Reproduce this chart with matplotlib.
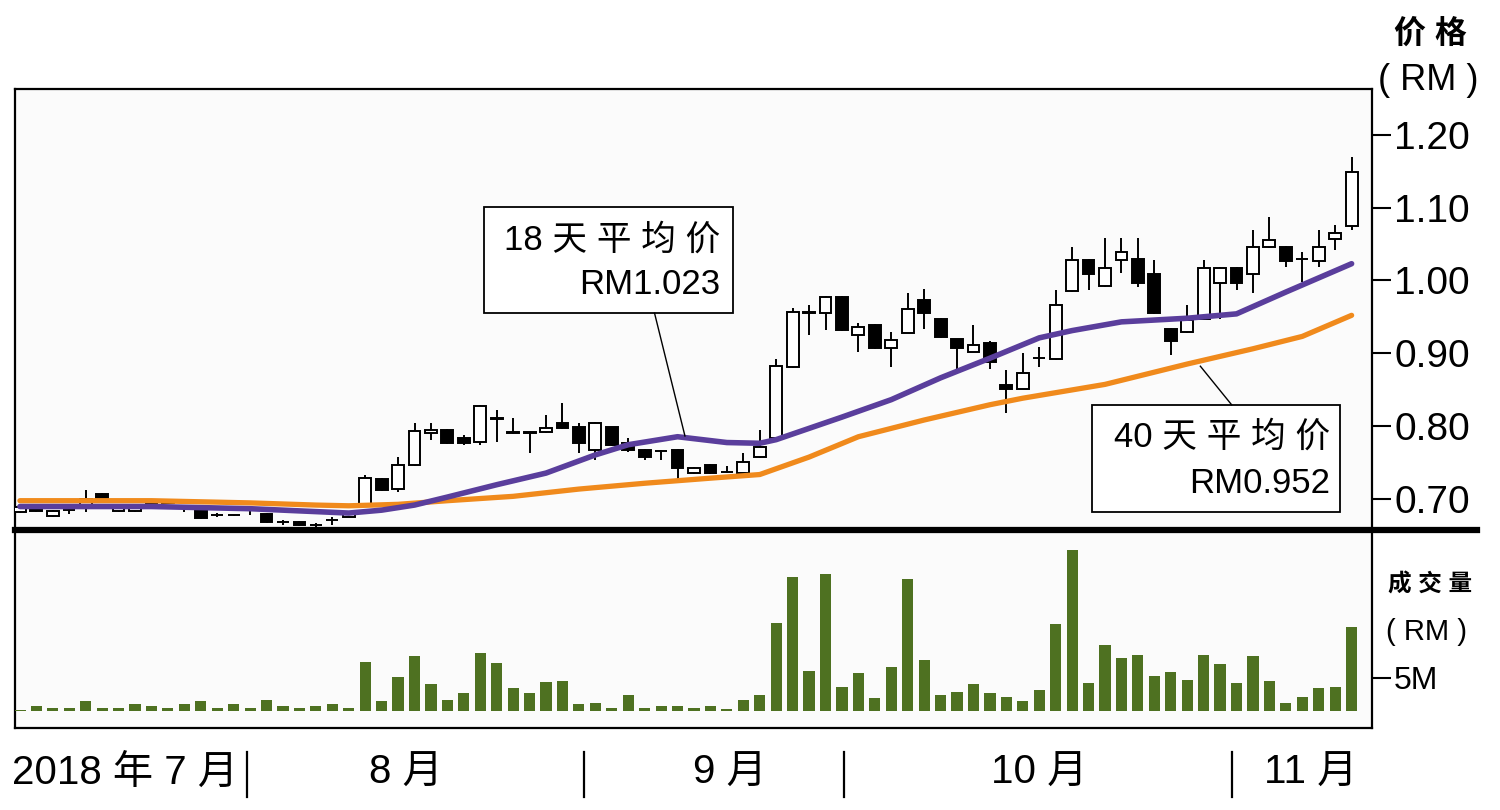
import matplotlib
matplotlib.use('Agg')
import matplotlib.pyplot as plt
import matplotlib.transforms as mtransforms
from matplotlib.lines import Line2D
from matplotlib.patches import Rectangle

plt.rcParams['font.family'] = ['Liberation Sans', 'Noto Sans CJK SC', 'DejaVu Sans']

# daily candles (RM)
opens = [0.681, 0.688, 0.676, 0.684, 0.687, 0.706, 0.683, 0.683, 0.692, 0.694,
         0.687, 0.687, 0.677, 0.677, 0.684, 0.679, 0.668, 0.668, 0.664, 0.670,
         0.675, 0.692, 0.727, 0.713, 0.746, 0.790, 0.794, 0.783, 0.778, 0.809,
         0.791, 0.791, 0.791, 0.804, 0.798, 0.767, 0.798, 0.776, 0.767, 0.766,
         0.767, 0.735, 0.746, 0.737, 0.735, 0.757, 0.783, 0.881, 0.956, 0.955,
         0.977, 0.925, 0.939, 0.907, 0.928, 0.973, 0.947, 0.919, 0.902, 0.914,
         0.856, 0.851, 0.893, 0.892, 0.985, 1.028, 0.992, 1.028, 1.029, 1.009,
         0.933, 0.929, 0.947, 0.996, 1.017, 1.009, 1.046, 1.046, 1.029, 1.027,
         1.057, 1.075]
highs = [0.689, 0.689, 0.684, 0.685, 0.712, 0.707, 0.688, 0.688, 0.696, 0.699,
         0.688, 0.688, 0.680, 0.678, 0.685, 0.680, 0.670, 0.669, 0.666, 0.675,
         0.682, 0.732, 0.728, 0.757, 0.804, 0.804, 0.795, 0.787, 0.828, 0.822,
         0.811, 0.792, 0.815, 0.831, 0.804, 0.805, 0.799, 0.783, 0.768, 0.767,
         0.768, 0.743, 0.747, 0.745, 0.763, 0.794, 0.892, 0.962, 0.966, 0.978,
         0.978, 0.941, 0.940, 0.929, 0.983, 0.988, 0.948, 0.920, 0.939, 0.916,
         0.877, 0.900, 0.908, 0.987, 1.046, 1.029, 1.058, 1.058, 1.058, 1.028,
         0.934, 0.966, 1.028, 1.018, 1.018, 1.069, 1.087, 1.047, 1.039, 1.069,
         1.076, 1.170]
lows = [0.680, 0.682, 0.675, 0.679, 0.681, 0.696, 0.682, 0.682, 0.690, 0.692,
        0.681, 0.672, 0.675, 0.676, 0.677, 0.666, 0.664, 0.662, 0.661, 0.664,
        0.674, 0.691, 0.710, 0.709, 0.745, 0.781, 0.775, 0.774, 0.774, 0.778,
        0.789, 0.763, 0.790, 0.796, 0.763, 0.753, 0.772, 0.764, 0.753, 0.753,
        0.725, 0.734, 0.734, 0.735, 0.734, 0.756, 0.781, 0.880, 0.925, 0.932,
        0.931, 0.902, 0.906, 0.881, 0.927, 0.933, 0.921, 0.877, 0.901, 0.878,
        0.818, 0.850, 0.881, 0.891, 0.984, 0.987, 0.991, 1.010, 0.991, 0.954,
        0.897, 0.928, 0.946, 0.947, 0.987, 0.983, 1.045, 1.018, 0.998, 1.018,
        1.042, 1.069]
closes = [0.688, 0.683, 0.683, 0.684, 0.699, 0.697, 0.687, 0.687, 0.694, 0.696,
          0.687, 0.673, 0.677, 0.677, 0.684, 0.668, 0.668, 0.663, 0.664, 0.670,
          0.680, 0.728, 0.712, 0.746, 0.793, 0.794, 0.776, 0.776, 0.827, 0.811,
          0.790, 0.790, 0.797, 0.797, 0.776, 0.804, 0.774, 0.767, 0.757, 0.766,
          0.742, 0.742, 0.735, 0.736, 0.750, 0.771, 0.882, 0.957, 0.955, 0.977,
          0.932, 0.936, 0.907, 0.918, 0.961, 0.955, 0.922, 0.907, 0.911, 0.888,
          0.851, 0.873, 0.893, 0.966, 1.028, 1.009, 1.017, 1.039, 0.996, 0.955,
          0.917, 0.946, 1.017, 1.017, 0.996, 1.046, 1.056, 1.027, 1.029, 1.046,
          1.065, 1.149]

# turnover, RM million
volume_m = [0.2, 0.8, 0.5, 0.5, 1.5, 0.5, 0.5, 1.1, 0.8, 0.5,
            1.1, 1.5, 0.5, 1.1, 0.5, 1.7, 0.8, 0.5, 0.8, 1.1,
            0.5, 7.4, 1.5, 5.2, 8.3, 4.1, 1.7, 2.7, 8.8, 7.3,
            3.5, 2.7, 4.4, 4.5, 1.1, 1.2, 0.5, 2.4, 0.5, 0.8,
            0.8, 0.5, 0.8, 0.3, 1.7, 2.4, 13.3, 20.3, 6.1, 20.8,
            3.6, 5.8, 2.0, 6.7, 20.0, 7.7, 2.4, 2.9, 4.1, 2.7,
            2.1, 1.5, 3.2, 13.2, 24.4, 4.2, 10.0, 8.0, 8.5, 5.3,
            5.9, 4.7, 8.5, 7.1, 4.2, 8.3, 4.5, 1.2, 2.1, 3.5,
            3.6, 12.7]

# moving averages sampled at candle positions
ma18_idx = [0, 8, 14, 18, 20, 22, 24, 26, 29, 32, 35, 37, 40, 43, 45, 46,
            50, 53, 56, 59, 62, 64, 67, 71, 74, 77, 81]
ma18 = [0.689, 0.689, 0.686, 0.682, 0.680, 0.684, 0.691, 0.702, 0.719, 0.735,
        0.760, 0.774, 0.785, 0.777, 0.776, 0.781, 0.812, 0.836, 0.866, 0.893,
        0.921, 0.931, 0.943, 0.948, 0.954, 0.984, 1.023]
ma40_idx = [0, 8, 14, 18, 20, 23, 26, 30, 34, 38, 42, 45, 48, 51, 55, 59,
            61, 66, 71, 75, 78, 81]
ma40 = [0.697, 0.697, 0.694, 0.691, 0.690, 0.692, 0.697, 0.703, 0.713, 0.721,
        0.728, 0.733, 0.757, 0.785, 0.808, 0.829, 0.838, 0.857, 0.885, 0.906,
        0.923, 0.952]

price_ticks = [0.70, 0.80, 0.90, 1.00, 1.10, 1.20]
vol_ticks = [5]
vol_tick_labels = ['5M']

month_labels = ['2018 年 7 月', '8 月', '9 月', '10 月', '11 月']
month_pos = [6.4, 23.5, 43.2, 62.0, 78.5]
month_breaks = [13.8, 34.3, 50.1, 73.7]

W, H = 1500, 810
fig = plt.figure(figsize=(W / 100, H / 100), dpi=100)
fig.patch.set_facecolor('white')
bg = '#fbfbfb'

ax = fig.add_axes([15 / W, 1 - 530 / H, 1357 / W, 441 / H])
axv = fig.add_axes([15 / W, 1 - 728 / H, 1357 / W, 198 / H])

idx = list(range(len(opens)))

# candles
ax.vlines(idx, lows, highs, color='black', lw=1.4, zorder=2)
bottoms = [min(o, c) for o, c in zip(opens, closes)]
heights = [abs(c - o) for o, c in zip(opens, closes)]
fills = ['white' if c >= o else 'black' for o, c in zip(opens, closes)]
ax.bar(idx, heights, bottom=bottoms, width=0.72, color=fills,
       edgecolor='black', linewidth=1.4, zorder=3)

# moving averages
ax.plot(ma40_idx, ma40, color='#f08a1c', lw=3.8, zorder=4,
        solid_capstyle='round', solid_joinstyle='round')
ax.plot(ma18_idx, ma18, color='#5a3e9c', lw=4.0, zorder=5,
        solid_capstyle='round', solid_joinstyle='round')

# annotation boxes
ax.add_patch(Rectangle((28.2, 0.955), 15.2, 0.146, facecolor='white',
                       edgecolor='black', lw=1.3, zorder=6))
ax.text(42.6, 1.056, '18 天 平 均 价', ha='right', va='center', fontsize=25, zorder=7)
ax.text(42.6, 0.994, 'RM1.023', ha='right', va='center', fontsize=25, zorder=7)
ax.plot([38.6, 40.45], [0.955, 0.786], color='black', lw=1.0, zorder=6)

ax.add_patch(Rectangle((65.2, 0.681), 15.1, 0.148, facecolor='white',
                       edgecolor='black', lw=1.3, zorder=6))
ax.text(79.7, 0.785, '40 天 平 均 价', ha='right', va='center', fontsize=25, zorder=7)
ax.text(79.7, 0.721, 'RM0.952', ha='right', va='center', fontsize=25, zorder=7)
ax.plot([71.8, 73.7], [0.882, 0.829], color='black', lw=1.0, zorder=6)

# volume
axv.bar(idx, volume_m, width=0.68, color='#4e7121', zorder=3)

xlim = (-0.3, 82.24)
for a in (ax, axv):
    a.set_xlim(*xlim)
    a.set_facecolor(bg)
    a.set_xticks([])
    a.yaxis.tick_right()
    a.tick_params(axis='y', direction='out', length=14, width=1.5, pad=2,
                  colors='black')
    for s in a.spines.values():
        s.set_linewidth(1.6)
        s.set_color('black')

ax.set_ylim(0.6567, 1.2633)
ax.set_yticks(price_ticks)
ax.set_yticklabels(['%.2f' % t for t in price_ticks], fontsize=28)

axv.set_ylim(-2.58, 27.42)
axv.set_yticks(vol_ticks)
axv.set_yticklabels(vol_tick_labels, fontsize=23)

# thick divider between panels
fig.add_artist(Line2D([15 / W, 1477 / W], [1 - 530 / H] * 2, lw=4.5, color='black'))

# right-hand headers
fig.text(1430 / W, 1 - 35 / H, '价 格', ha='center', va='center', fontsize=23, fontweight='bold')
fig.text(1428 / W, 1 - 80 / H, '( RM )', ha='center', va='center', fontsize=26)
fig.text(1430 / W, 1 - 585 / H, '成 交 量', ha='center', va='center', fontsize=17, fontweight='bold')
fig.text(1427 / W, 1 - 632 / H, '( RM )', ha='center', va='center', fontsize=21)

# month labels along the bottom
trans = mtransforms.blended_transform_factory(axv.transData, fig.transFigure)
for lab, p in zip(month_labels, month_pos):
    fig.text(p, 1 - 773 / H, lab, transform=trans, ha='center', va='center',
             fontsize=29, family=['Liberation Sans Narrow', 'Liberation Sans', 'Noto Sans CJK SC'])
for b in month_breaks:
    fig.add_artist(Line2D([b, b], [1 - 752 / H, 1 - 797 / H], transform=trans,
                          lw=1.6, color='black'))

fig.savefig('out.png', dpi=100, facecolor='white')
